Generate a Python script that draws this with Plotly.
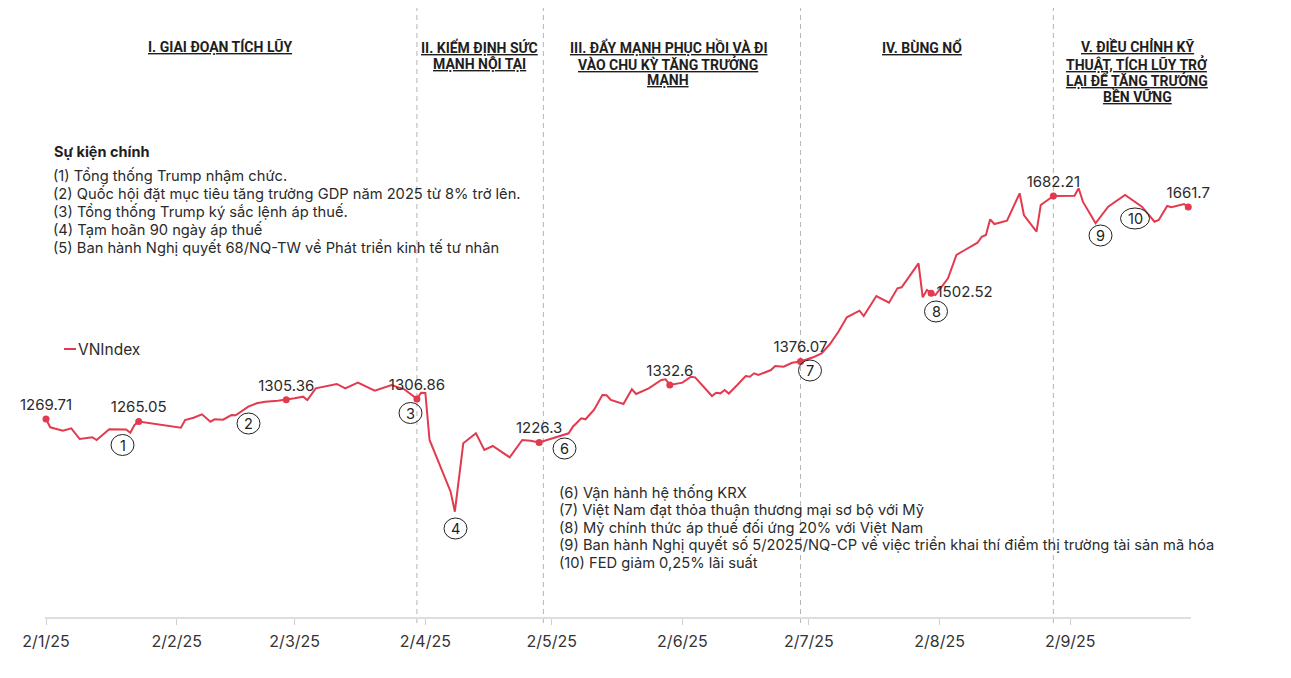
import plotly.graph_objects as go

# ---------------------------------------------------------------
# Du lieu VN-Index 2025 (doc tu bieu do)
# ---------------------------------------------------------------
dates = [
    "2025-01-02", "2025-01-03", "2025-01-06", "2025-01-08", "2025-01-10", "2025-01-13",
    "2025-01-14", "2025-01-17", "2025-01-21", "2025-01-22", "2025-01-23", "2025-01-24",
    "2025-02-03", "2025-02-04", "2025-02-06", "2025-02-08", "2025-02-10", "2025-02-11",
    "2025-02-13", "2025-02-15", "2025-02-16", "2025-02-19", "2025-02-21", "2025-02-23",
    "2025-02-26", "2025-02-28",
    "2025-03-02", "2025-03-04", "2025-03-05", "2025-03-07", "2025-03-12", "2025-03-14",
    "2025-03-17", "2025-03-21", "2025-03-25", "2025-03-28", "2025-03-31",
    "2025-04-01", "2025-04-02", "2025-04-03", "2025-04-08", "2025-04-09", "2025-04-11",
    "2025-04-14", "2025-04-16", "2025-04-18", "2025-04-20", "2025-04-22", "2025-04-25",
    "2025-04-27", "2025-04-29",
    "2025-05-03", "2025-05-06", "2025-05-07", "2025-05-09", "2025-05-10", "2025-05-12",
    "2025-05-14", "2025-05-15", "2025-05-16", "2025-05-19", "2025-05-21", "2025-05-22",
    "2025-05-25", "2025-05-28", "2025-05-29", "2025-05-30",
    "2025-06-02", "2025-06-04", "2025-06-05", "2025-06-07", "2025-06-09", "2025-06-10",
    "2025-06-11", "2025-06-12", "2025-06-13", "2025-06-15", "2025-06-17", "2025-06-18",
    "2025-06-19", "2025-06-20", "2025-06-23", "2025-06-24", "2025-06-26", "2025-06-28",
    "2025-06-30",
    "2025-07-03", "2025-07-05", "2025-07-07", "2025-07-09", "2025-07-11", "2025-07-14",
    "2025-07-15", "2025-07-18", "2025-07-21", "2025-07-23", "2025-07-24", "2025-07-28",
    "2025-07-29", "2025-07-30", "2025-07-31",
    "2025-08-01", "2025-08-04", "2025-08-06", "2025-08-08", "2025-08-11", "2025-08-12",
    "2025-08-13", "2025-08-14", "2025-08-15", "2025-08-18", "2025-08-19", "2025-08-21",
    "2025-08-22", "2025-08-25", "2025-08-26", "2025-08-28", "2025-08-29",
    "2025-09-03", "2025-09-04", "2025-09-05", "2025-09-08", "2025-09-11", "2025-09-15",
    "2025-09-19", "2025-09-22", "2025-09-23", "2025-09-25", "2025-09-26", "2025-09-29",
    "2025-09-30",
]
vnindex = [
    1269.71, 1254.4, 1248.1, 1252.5, 1232.7, 1235.9,
    1230.9, 1250.7, 1250.3, 1244.4, 1258.6, 1265.05,
    1253.6, 1267.9, 1272.1, 1278.4, 1264.7, 1269.2,
    1268.5, 1277.1, 1276.6, 1292.5, 1298.7, 1301.7,
    1303.6, 1305.36,
    1308.0, 1311.0, 1304.9, 1326.5, 1334.5, 1326.5,
    1336.9, 1322.1, 1332.6, 1324.7, 1306.86,
    1318.4, 1317.8, 1230.9, 1135.2, 1098.2, 1224.8,
    1243.3, 1212.4, 1219.8, 1209.2, 1198.9, 1230.9,
    1229.5, 1226.3,
    1235.5, 1243.3, 1255.5, 1271.0, 1269.2, 1286.4,
    1314.1, 1313.5, 1304.9, 1297.5, 1324.7, 1316.0,
    1326.5, 1341.9, 1343.1, 1332.6,
    1336.9, 1348.0, 1346.8, 1329.5, 1312.2, 1318.4,
    1317.2, 1323.4, 1316.8, 1332.6, 1349.2, 1348.0,
    1354.2, 1351.1, 1360.3, 1367.7, 1366.4, 1373.8,
    1376.07,
    1383.8, 1391.2, 1408.4, 1431.2, 1457.8, 1470.0,
    1460.2, 1497.2, 1484.8, 1511.5, 1513.3, 1557.7,
    1494.8, 1508.3, 1502.52,
    1499.1, 1530.0, 1573.1, 1582.3, 1595.8, 1606.9,
    1610.1, 1639.1, 1630.4, 1636.5, 1653.2, 1687.2,
    1647.1, 1616.2, 1665.6, 1676.7, 1682.21,
    1682.5, 1696.5, 1671.7, 1631.7, 1662.4, 1684.1,
    1662.4, 1634.7, 1637.8, 1663.7, 1661.3, 1667.4,
    1661.7,
]

# cac diem co ghi gia tri
label_dates = ["2025-01-02", "2025-01-24", "2025-02-28", "2025-03-31", "2025-04-29",
               "2025-05-30", "2025-06-30", "2025-07-31", "2025-08-29", "2025-09-30"]

# ranh gioi cac giai doan
phase_breaks = ["2025-03-31", "2025-04-30", "2025-06-30", "2025-08-29"]
phase_titles = [
    ["I. GIAI ĐOẠN TÍCH LŨY"],
    ["II. KIỂM ĐỊNH SỨC", "MẠNH NỘI TẠI"],
    ["III. ĐẨY MẠNH PHỤC HỒI VÀ ĐI", "VÀO CHU KỲ TĂNG TRƯỞNG", "MẠNH"],
    ["IV. BÙNG NỔ"],
    ["V. ĐIỀU CHỈNH KỸ", "THUẬT, TÍCH LŨY TRỞ", "LẠI ĐỂ TĂNG TRƯỞNG", "BỀN VỮNG"],
]

events_title = "Sự kiện chính"
events_top = [
    "(1) Tổng thống Trump nhậm chức.",
    "(2) Quốc hội đặt mục tiêu tăng trưởng GDP năm 2025 từ 8% trở lên.",
    "(3) Tổng thống Trump ký sắc lệnh áp thuế.",
    "(4) Tạm hoãn 90 ngày áp thuế",
    "(5) Ban hành Nghị quyết 68/NQ-TW về Phát triển kinh tế tư nhân",
]
events_bottom = [
    "(6) Vận hành hệ thống KRX",
    "(7) Việt Nam đạt thỏa thuận thương mại sơ bộ với Mỹ",
    "(8) Mỹ chính thức áp thuế đối ứng 20% với Việt Nam",
    "(9) Ban hành Nghị quyết số 5/2025/NQ-CP về việc triển khai thí điểm thị trường tài sản mã hóa",
    "(10) FED giảm 0,25% lãi suất",
]
circle_labels = ["1", "2", "3", "4", "6", "7", "8", "9", "10"]

# ---------------------------------------------------------------
# Khung ve: toa do pixel tren man hinh -> paper
# (trang html co le 8px quanh hinh)
# ---------------------------------------------------------------
SCREEN_W, SCREEN_H, OFF = 1291, 678, 8
L, R, T, B = 45, 1191, 10, 617

def px(x):
    return (x - L) / (R - L)

def py(y):
    return (B - y) / (B - T)

RED = "#e23a4e"
TXT = "#2b2b2b"
FONT = "Inter, Roboto, sans-serif"

# vi tri (pixel) cua cac vong tron danh so
circle_pos = [(122.5, 445), (248.5, 423.5), (410.5, 413), (455.5, 528.5),
              (564.5, 448.5), (810, 370.5), (936, 311.5), (1100.5, 235.5), (1135, 218.5)]
header_x = [219.5, 479.5, 668, 921.5, 1137]


def text_lines(lines, x, y0, step, font, xanchor="left"):
    for i, s in enumerate(lines):
        fig.add_annotation(x=px(x), y=py(y0 + i * step), xref="paper", yref="paper",
                           xanchor=xanchor, yanchor="middle", showarrow=False,
                           text=s, font=font)


fig = go.Figure()

fig.add_trace(go.Scatter(
    x=dates, y=vnindex, mode="lines", name="VNIndex",
    line=dict(color=RED, width=2), showlegend=False,
))

label_values = [vnindex[dates.index(d)] for d in label_dates]
fig.add_trace(go.Scatter(
    x=label_dates, y=label_values, mode="markers+text",
    text=[str(v) for v in label_values],
    textposition=["top center"] * 7 + ["middle right"] + ["top center"] * 2,
    textfont=dict(family=FONT, size=15, color=TXT),
    marker=dict(color=RED, size=7), showlegend=False, cliponaxis=False,
))

# duong ranh gioi giai doan
for d in phase_breaks:
    fig.add_shape(type="line", xref="x", yref="paper", x0=d, x1=d,
                  y0=py(623), y1=py(0), layer="below",
                  line=dict(color="#b5b5b5", width=1, dash="5px,4px"))

# tieu de giai doan
head_font = dict(family="Roboto", size=14, color="#1e1e1e", weight="bold", lineposition="under")
for lines, hx in zip(phase_titles, header_x):
    text_lines(lines, hx, 47, 16.5, head_font, xanchor="center")

# vong tron su kien
for lab, (cx, cy) in zip(circle_labels, circle_pos):
    rx = 14.5 if len(lab) > 1 else 11.5
    fig.add_shape(type="circle", xref="paper", yref="paper",
                  x0=px(cx - rx), x1=px(cx + rx), y0=py(cy + 10.5), y1=py(cy - 10.5),
                  line=dict(color="#222", width=1))
    fig.add_annotation(x=px(cx), y=py(cy), xref="paper", yref="paper", showarrow=False,
                       xanchor="center", yanchor="middle",
                       text=lab, font=dict(family=FONT, size=14.5, color="#222"))

# chu thich su kien
body_font = dict(family=FONT, size=14.7, color=TXT)
text_lines(["<b>" + events_title + "</b>"], 52, 152, 0, dict(family=FONT, size=14.5, color="#1e1e1e"))
text_lines(events_top, 51, 175.5, 18.2, body_font)
text_lines(events_bottom, 557, 492.5, 17.5, body_font)

# chu giai duong
fig.add_shape(type="line", xref="paper", yref="paper", x0=px(64), x1=px(76),
              y0=py(349), y1=py(349), line=dict(color=RED, width=2))
text_lines(["VNIndex"], 76, 349, 0, dict(family=FONT, size=15.5, color=TXT))

fig.update_layout(
    width=SCREEN_W - OFF, height=SCREEN_H - OFF,
    margin=dict(l=L - OFF, r=SCREEN_W - R, t=T - OFF, b=SCREEN_H - B),
    paper_bgcolor="white", plot_bgcolor="white",
    font=dict(family=FONT, color=TXT),
    xaxis=dict(
        type="date",
        range=["2025-01-01 18:18", "2025-09-30 15:36"],
        tick0="2025-01-02", dtick="M1", tickformat="%-d/%-m/%y",
        showgrid=False, zeroline=False,
        showline=True, linecolor="#dedede", linewidth=2,
        ticks="outside", ticklen=6, tickcolor="#d0d0d0", tickwidth=1,
        tickfont=dict(family=FONT, size=16, color="#333"),
        ticklabelstandoff=3,
    ),
    yaxis=dict(range=[903.45, 2026.28], visible=False, showgrid=False),
)

fig.write_html("out.html")
